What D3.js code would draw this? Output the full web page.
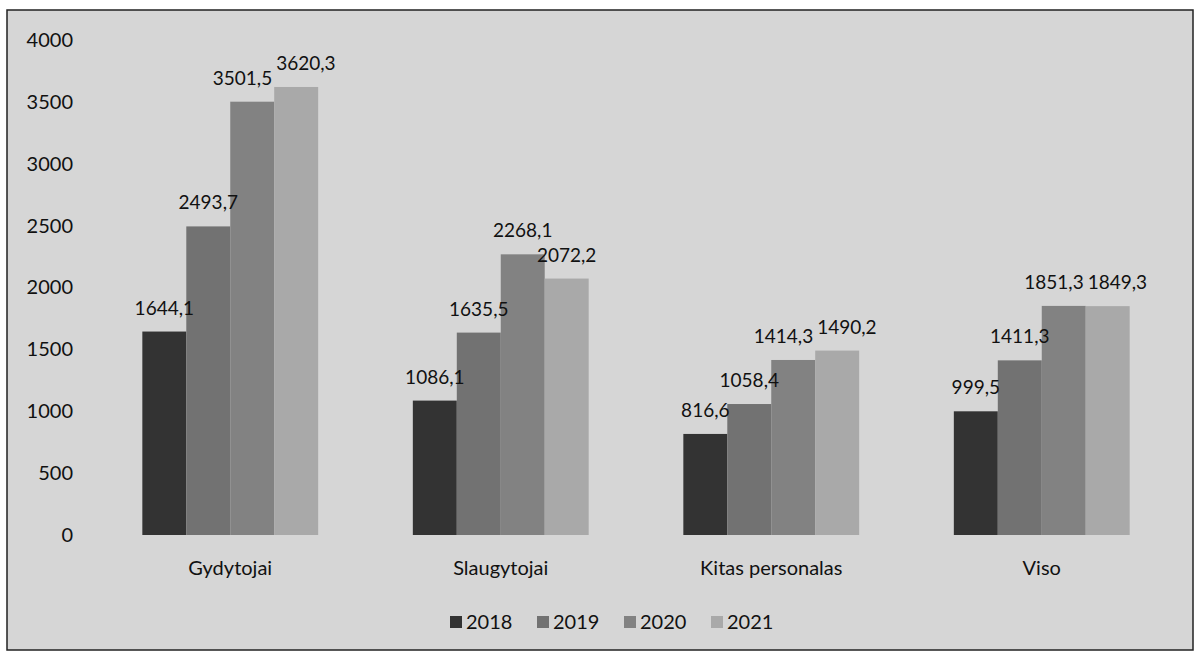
<!DOCTYPE html>
<html lang="lt">
<head>
<meta charset="UTF-8">
<script src="https://d3js.org/d3.v7.min.js"></script>
<style>
html, body { margin: 0; padding: 0; background: #fff; }
svg { display: block; }
text { font-family: Lato, "Open Sans", sans-serif; fill: #111; }
</style>
</head>
<body>
<div id="chart"></div>
<script>
var categories = ["Gydytojai", "Slaugytojai", "Kitas personalas", "Viso"];
var years = ["2018", "2019", "2020", "2021"];
var v2018 = [1644.1, 1086.1, 816.6, 999.5];
var v2019 = [2493.7, 1635.5, 1058.4, 1411.3];
var v2020 = [3501.5, 2268.1, 1414.3, 1851.3];
var v2021 = [3620.3, 2072.2, 1490.2, 1849.3];
var yTicks = [0, 500, 1000, 1500, 2000, 2500, 3000, 3500, 4000];

var series = [v2018, v2019, v2020, v2021];
var colors = ["#333333", "#727272", "#828282", "#a9a9a9"];

var W = 1197, H = 657;
var svg = d3.select("#chart").append("svg").attr("width", W).attr("height", H);

// frame
svg.append("rect")
    .attr("x", 7).attr("y", 10).attr("width", 1186).attr("height", 640)
    .attr("fill", "#d6d6d6").attr("stroke", "#222").attr("stroke-width", 1.5);

var x = d3.scaleBand().domain(categories).range([95, 1177])
    .paddingInner(0.35).paddingOuter(0.175);
var xs = d3.scaleBand().domain(years).range([0, x.bandwidth()]);
var y = d3.scaleLinear().domain([0, 4000]).range([535, 40]);

// y axis labels
var yAxis = d3.axisLeft(y).tickValues(yTicks).tickFormat(d3.format("d")).tickSize(0).tickPadding(0);
var gy = svg.append("g").attr("transform", "translate(73,0)").call(yAxis);
gy.attr("font-size", null).attr("font-family", null);
gy.select(".domain").remove();
gy.selectAll("text").style("font-size", "20px").attr("fill", "#111");

// x axis labels
var xAxis = d3.axisBottom(x).tickSize(0).tickPadding(0);
var gx = svg.append("g").attr("transform", "translate(0,561)").call(xAxis);
gx.attr("font-size", null).attr("font-family", null);
gx.select(".domain").remove();
gx.selectAll("text").style("font-size", "20px").attr("fill", "#111");

// bars
var groups = svg.append("g").selectAll("g")
    .data(categories).enter().append("g")
    .attr("transform", function (d) { return "translate(" + x(d) + ",0)"; });

groups.each(function (cat, ci) {
    var g = d3.select(this);
    var rows = years.map(function (yr, si) { return { yr: yr, v: series[si][ci], si: si }; });

    g.selectAll("rect").data(rows).enter().append("rect")
        .attr("x", function (d) { return xs(d.yr); })
        .attr("y", function (d) { return y(d.v); })
        .attr("width", xs.bandwidth())
        .attr("height", function (d) { return y(0) - y(d.v); })
        .attr("fill", function (d) { return colors[d.si]; });

    // labels, nudged sideways when two neighbours would collide
    var lbl = g.selectAll("text.val").data(rows).enter().append("text")
        .attr("class", "val")
        .attr("text-anchor", "middle")
        .style("font-size", "19px")
        .attr("y", function (d) { return y(d.v) - 17; })
        .text(function (d) { return d3.format(".1f")(d.v).replace(".", ","); });

    var boxes = [];
    lbl.each(function (d) {
        var w = this.getComputedTextLength();
        boxes.push({ cx: xs(d.yr) + xs.bandwidth() / 2, w: w, y: y(d.v) - 17, node: this });
    });
    for (var i = 1; i < boxes.length; i++) {
        var a = boxes[i - 1], b = boxes[i];
        if (Math.abs(a.y - b.y) < 18) {
            var overlap = (a.cx + a.w / 2 + 4) - (b.cx - b.w / 2);
            if (overlap > 0) { a.cx -= overlap / 2; b.cx += overlap / 2; }
        }
    }
    boxes.forEach(function (b) { d3.select(b.node).attr("x", b.cx); });
});

// legend
var leg = svg.append("g").attr("transform", "translate(450,622)");
var offs = [0, 87, 174, 261];
var items = leg.selectAll("g").data(years).enter().append("g")
    .attr("transform", function (d, i) { return "translate(" + offs[i] + ",0)"; });
items.append("rect").attr("x", 0).attr("y", -6).attr("width", 12).attr("height", 12)
    .attr("fill", function (d, i) { return colors[i]; });
items.append("text").attr("x", 16).attr("y", 7).style("font-size", "20px")
    .text(function (d) { return d; });
</script>
</body>
</html>
